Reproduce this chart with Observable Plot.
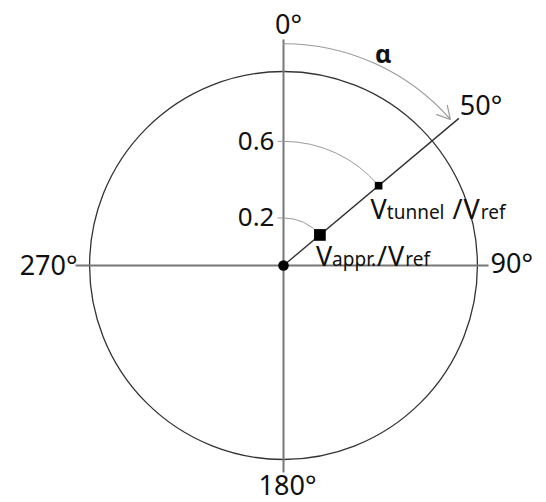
<!DOCTYPE html>
<html>
<head>
<meta charset="utf-8">
<script src="https://cdn.jsdelivr.net/npm/d3@7"></script>
<script src="https://cdn.jsdelivr.net/npm/@observablehq/plot@0.6"></script>
<style>
  html, body { margin: 0; padding: 0; background: #fff; }
  svg { display: block; }
</style>
</head>
<body>
<div id="chart"></div>
<script>
// ---- data (radii in units of the outer circle) ----
const axisAngles = [0, 90, 180, 270];                 // degrees, clockwise from top
const axisLabels = ["0°", "90°", "180°", "270°"];
const axisReach  = [1.165, 1.057, 1.067, 1.072];       // how far each axis line extends
const rayAngle   = 50;                                 // α
const rayLabel   = "50°";
const rayReach   = 1.18;
const alphaRadius = 1.143;                             // radius of the α arrow arc
const alphaEnd    = 48.8;                              // angle where the α arrow stops
const ratioNames  = ["tunnel", "appr."];
const ratioRadii  = [0.64, 0.245];                     // positions of the two squares
const ratioTicks  = ["0.6", "0.2"];
const ratioSep    = [" /", "/"];

// ---- helpers ----
const rad = Math.PI / 180;
const px = (a, r) => r * Math.sin(a * rad);
const py = (a, r) => r * Math.cos(a * rad);

const axes = axisAngles.map((a, i) => ({a, r: axisReach[i], label: axisLabels[i]}));
const ratios = ratioNames.map((n, i) => ({name: n, r: ratioRadii[i], tick: ratioTicks[i], sep: ratioSep[i]}));
const FONT = "Noto Sans, DejaVu Sans, sans-serif";

const anchorFor = [
  {textAnchor: "middle", dx: 5, dy: -14},   // 0°
  {textAnchor: "start",  dx: 2, dy: -1},    // 90°
  {textAnchor: "middle", dx: 4, dy: 14},    // 180°
  {textAnchor: "end",    dx: 2, dy: 1}      // 270°
];

const marks = [
  // outer unit circle as two half-circle arcs
  Plot.arrow([{x1: 0, y1: 1, x2: 0, y2: -1}, {x1: 0, y1: -1, x2: 0, y2: 1}], {
    x1: "x1", y1: "y1", x2: "x2", y2: "y2", bend: 90, headLength: 0,
    stroke: "#333", strokeWidth: 1.3
  }),
  // axes
  Plot.link(axes, {
    x1: 0, y1: 0, x2: d => px(d.a, d.r), y2: d => py(d.a, d.r),
    stroke: "#777", strokeWidth: 2
  }),
  // small ticks left of the vertical axis at the ratio levels
  Plot.ruleY(ratios, {y: "r", x1: -0.028, x2: 0, stroke: "#999", strokeWidth: 1}),
  // gray arcs from 0° to the squares
  Plot.arrow(ratios, {
    x1: 0, y1: "r", x2: d => px(rayAngle, d.r), y2: d => py(rayAngle, d.r),
    bend: rayAngle / 2, headLength: 0, stroke: "#9a9a9a", strokeWidth: 1
  }),
  // α arrow
  Plot.arrow([alphaRadius], {
    x1: 0, y1: d => d, x2: d => px(alphaEnd, d), y2: d => py(alphaEnd, d),
    bend: alphaEnd / 2, headLength: 18, headAngle: 58,
    stroke: "#9a9a9a", strokeWidth: 1.2
  }),
  Plot.text(["α"], {
    x: px(alphaEnd * 0.5, alphaRadius), y: py(alphaEnd * 0.5, alphaRadius),
    text: d => d, dx: 8, dy: -9, fontSize: 25, fontWeight: "bold", fontFamily: FONT, fill: "#111"
  }),
  // 50° ray
  Plot.link([rayReach], {
    x1: 0, y1: 0, x2: d => px(rayAngle, d), y2: d => py(rayAngle, d),
    stroke: "#333", strokeWidth: 1.4
  }),
  Plot.text([rayReach], {
    x: d => px(rayAngle, d), y: d => py(rayAngle, d), text: () => rayLabel,
    textAnchor: "start", dx: 1, dy: -12, fontSize: 27, fontFamily: FONT, fill: "#111"
  }),
  // axis labels
  ...axes.map((d, i) => Plot.text([d], {
    x: px(d.a, d.r), y: py(d.a, d.r), text: "label",
    ...anchorFor[i], fontSize: 27, fontFamily: FONT, fill: "#111"
  })),
  // ratio tick labels
  Plot.text(ratios, {
    x: 0, y: "r", text: "tick", textAnchor: "end", dx: -9, dy: 0,
    fontSize: 26, fontFamily: FONT, fill: "#111"
  }),
  // squares
  Plot.dot([ratios[0]], {x: d => px(rayAngle, d.r), y: d => py(rayAngle, d.r),
    symbol: "square", r: 4.3, fill: "#000", stroke: "none"}),
  Plot.dot([ratios[1]], {x: d => px(rayAngle, d.r), y: d => py(rayAngle, d.r),
    symbol: "square", r: 6.6, fill: "#000", stroke: "none"}),
  // center dot
  Plot.dot([0], {x: 0, y: 0, r: 5.3, fill: "#000", stroke: "none"}),
  // ratio labels (restyled below with small-size subscript words)
  Plot.text([ratios[0]], {
    x: d => px(rayAngle, d.r), y: d => py(rayAngle, d.r),
    text: d => `V${d.name}${d.sep}Vref`, textAnchor: "start", dx: -8, dy: 25,
    fontSize: 27, fontFamily: FONT, fill: "#111"
  }),
  Plot.text([ratios[1]], {
    x: d => px(rayAngle, d.r), y: d => py(rayAngle, d.r),
    text: d => `V${d.name}${d.sep}Vref`, textAnchor: "start", dx: -4, dy: 22,
    fontSize: 27, fontFamily: FONT, fill: "#111"
  })
];

const chart = Plot.plot({
  width: 546,
  height: 502,
  margin: 0,
  style: {background: "#fff", overflow: "visible"},
  x: {domain: [-1, 1], range: [89, 477], axis: null},
  y: {domain: [-1, 1], range: [459, 71], axis: null},
  marks
});

// split "Vtunnel /Vref" into big V's and small subscript words
const labelTexts = new Map(ratios.map(q => [`V${q.name}${q.sep}Vref`, q]));
chart.querySelectorAll("text").forEach(node => {
  const r = labelTexts.get(node.textContent);
  if (!r) return;
  const parts = [["V", 27, 0], [r.name, 19, 0], [r.sep, 27, 1], ["V", 27, 1], ["ref", 19, 1]];
  while (node.firstChild) node.removeChild(node.firstChild);
  node.setAttribute("xml:space", "preserve");
  node.style.whiteSpace = "pre";
  for (const [s, fs, gap] of parts) {
    const ts = document.createElementNS("http://www.w3.org/2000/svg", "tspan");
    ts.setAttribute("font-size", fs);
    if (gap) ts.setAttribute("dx", gap);
    ts.textContent = s;
    node.appendChild(ts);
  }
});

document.getElementById("chart").appendChild(chart);
</script>
</body>
</html>
